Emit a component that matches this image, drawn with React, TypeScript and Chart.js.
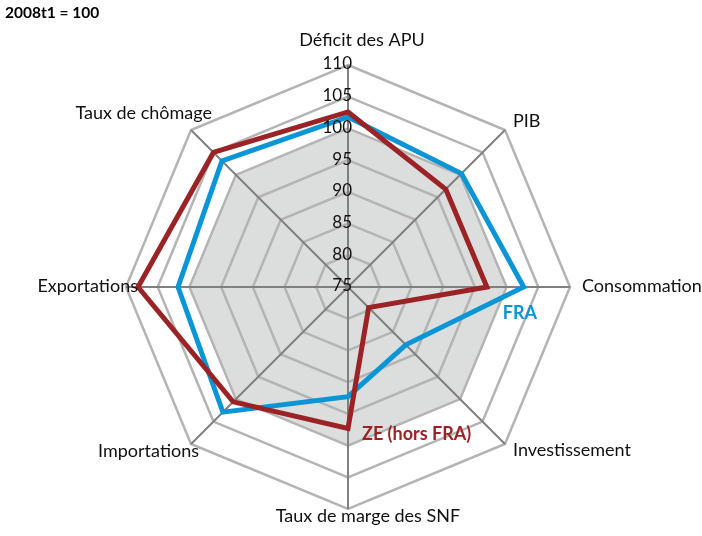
import React, { useEffect, useRef } from "react";
import { Chart, registerables } from "chart.js";

Chart.register(...registerables);

const title = "2008t1 = 100";
const categories = [
  "Déficit des APU",
  "PIB",
  "Consommation",
  "Investissement",
  "Taux de marge des SNF",
  "Importations",
  "Exportations",
  "Taux de chômage",
];
const seriesNames = ["FRA", "ZE (hors FRA)"];
const fraValues = [101.8, 100.3, 102.7, 87.9, 92.3, 102.9, 101.8, 103.1];
const zeValues = [102.6, 96.8, 96.9, 79.6, 97.3, 100.6, 108.1, 105.0];
const baseValues = [100, 100, 100, 100, 100, 100, 100, 100];
const tickValues = [75, 80, 85, 90, 95, 100, 105, 110];

const BLUE = "#0995d6";
const RED = "#9b2326";
const FONT = "Lato, 'Open Sans', sans-serif";

// label placement relative to the scale's axis end points
const labelOffsets: { dx: number; dy: number; align: CanvasTextAlign }[] = [
  { dx: 14, dy: -25, align: "center" },
  { dx: 8, dy: -9, align: "left" },
  { dx: 12, dy: -1, align: "left" },
  { dx: 8, dy: 6, align: "left" },
  { dx: 20, dy: 7, align: "center" },
  { dx: 8, dy: 7, align: "right" },
  { dx: 12, dy: -1, align: "right" },
  { dx: 21, dy: -17, align: "right" },
];

const decorPlugin = {
  id: "decor",
  beforeDraw(chart: any) {
    const r = chart.scales.r;
    const ctx = chart.ctx;
    ctx.save();
    ctx.beginPath();
    baseValues.forEach((v, i) => {
      const p = r.getPointPositionForValue(i, v);
      if (i === 0) ctx.moveTo(p.x, p.y);
      else ctx.lineTo(p.x, p.y);
    });
    ctx.closePath();
    ctx.fillStyle = "#dcdddd";
    ctx.fill();
    ctx.restore();
  },
  afterDraw(chart: any) {
    const r = chart.scales.r;
    const ctx = chart.ctx;
    ctx.save();
    // tick labels
    ctx.fillStyle = "#111";
    ctx.font = `17px ${FONT}`;
    ctx.textAlign = "right";
    ctx.textBaseline = "middle";
    tickValues.forEach((v) => {
      const p = r.getPointPositionForValue(0, v);
      ctx.fillText(String(v), r.xCenter + 4, p.y - 1);
    });
    // point labels
    ctx.font = `18px ${FONT}`;
    categories.forEach((c, i) => {
      const p = r.getPointPositionForValue(i, r.max);
      const o = labelOffsets[i];
      ctx.textAlign = o.align;
      ctx.fillText(c, p.x + o.dx, p.y + o.dy);
    });
    // series labels
    ctx.font = `bold 18px ${FONT}`;
    ctx.textAlign = "left";
    const pf = r.getPointPositionForValue(2, fraValues[2]);
    ctx.fillStyle = BLUE;
    ctx.fillText(seriesNames[0], pf.x - 21, pf.y + 26);
    const pz = r.getPointPositionForValue(4, zeValues[4]);
    ctx.fillStyle = RED;
    ctx.fillText(seriesNames[1], pz.x + 14, pz.y + 6);
    // title
    ctx.fillStyle = "#000";
    ctx.font = `bold 15.5px ${FONT}`;
    ctx.fillText(title, 5, 13);
    ctx.restore();
  },
};

export default function App() {
  const ref = useRef<HTMLCanvasElement | null>(null);
  useEffect(() => {
    if (!ref.current) return;
    const chart = new Chart(ref.current, {
      type: "radar",
      data: {
        labels: categories,
        datasets: [
          {
            label: seriesNames[1],
            data: zeValues,
            borderColor: RED,
            backgroundColor: "transparent",
            borderWidth: 5,
            pointRadius: 0,
            borderJoinStyle: "miter",
            fill: false,
            order: 0,
          },
          {
            label: seriesNames[0],
            data: fraValues,
            borderColor: BLUE,
            backgroundColor: "transparent",
            borderWidth: 5,
            pointRadius: 0,
            borderJoinStyle: "miter",
            fill: false,
            order: 1,
          },
        ],
      },
      options: {
        animation: false,
        responsive: true,
        maintainAspectRatio: false,
        layout: { padding: { left: 126, top: 65, right: 132, bottom: 27 } },
        plugins: { legend: { display: false }, tooltip: { enabled: false } },
        elements: { line: { tension: 0 } },
        scales: {
          r: {
            min: 75,
            max: 110,
            ticks: { display: false, stepSize: 5 },
            pointLabels: { display: false },
            grid: { color: "#b4b4b4", lineWidth: 2.5 },
            angleLines: { color: "#808080", lineWidth: 2 },
          },
        },
      },
      plugins: [decorPlugin],
    });
    return () => chart.destroy();
  }, []);
  return (
    <div style={{ position: "absolute", left: 0, top: 0, width: 702, height: 536, background: "#fff" }}>
      <canvas ref={ref} />
    </div>
  );
}
